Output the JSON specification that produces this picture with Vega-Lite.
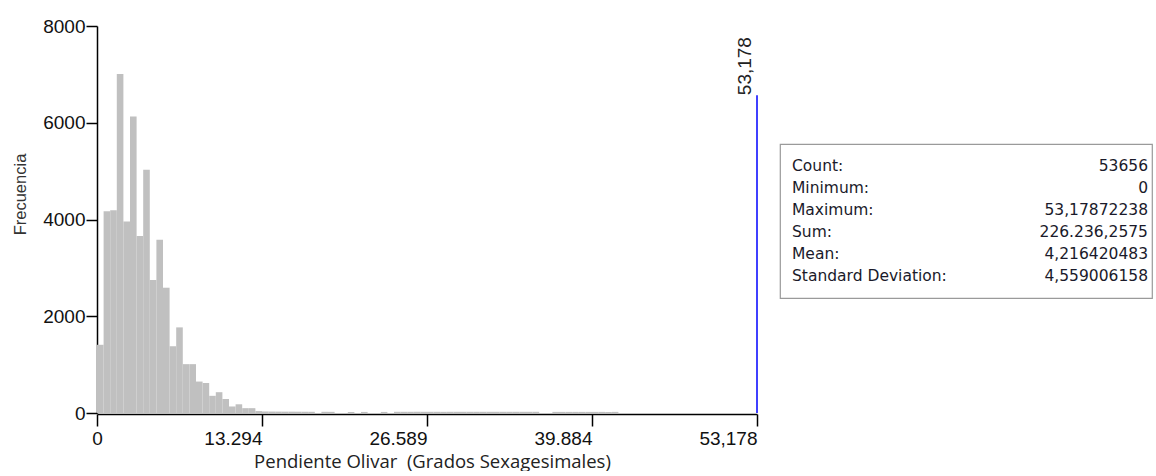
{
  "$schema": "https://vega.github.io/schema/vega-lite/v6.json",
  "background": "white",
  "padding": {"left": 12, "top": 17, "right": 0, "bottom": 0},
  "config": {"view": {"stroke": null}, "font": "Liberation Sans"},
  "spacing": 21,
  "hconcat": [
    {
      "width": 660,
      "height": 387,
      "layer": [
        {
          "data": {"values": [
            {"start": 0, "end": 0.532, "count": 1410},
            {"start": 0.532, "end": 1.064, "count": 4170},
            {"start": 1.064, "end": 1.595, "count": 4190},
            {"start": 1.595, "end": 2.127, "count": 7010},
            {"start": 2.127, "end": 2.659, "count": 3960},
            {"start": 2.659, "end": 3.191, "count": 6130},
            {"start": 3.191, "end": 3.722, "count": 3660},
            {"start": 3.722, "end": 4.254, "count": 5030},
            {"start": 4.254, "end": 4.786, "count": 2750},
            {"start": 4.786, "end": 5.318, "count": 3580},
            {"start": 5.318, "end": 5.850, "count": 2590},
            {"start": 5.850, "end": 6.381, "count": 1380},
            {"start": 6.381, "end": 6.913, "count": 1770},
            {"start": 6.913, "end": 7.445, "count": 1010},
            {"start": 7.445, "end": 7.977, "count": 1010},
            {"start": 7.977, "end": 8.508, "count": 650},
            {"start": 8.508, "end": 9.040, "count": 620},
            {"start": 9.040, "end": 9.572, "count": 355},
            {"start": 9.572, "end": 10.104, "count": 430},
            {"start": 10.104, "end": 10.636, "count": 290},
            {"start": 10.636, "end": 11.167, "count": 135},
            {"start": 11.167, "end": 11.699, "count": 180},
            {"start": 11.699, "end": 12.231, "count": 100},
            {"start": 12.231, "end": 12.763, "count": 100},
            {"start": 12.763, "end": 13.295, "count": 40},
            {"start": 13.295, "end": 13.826, "count": 32},
            {"start": 13.826, "end": 14.358, "count": 30},
            {"start": 14.358, "end": 14.890, "count": 29},
            {"start": 14.890, "end": 15.422, "count": 28},
            {"start": 15.422, "end": 15.953, "count": 28},
            {"start": 15.953, "end": 16.485, "count": 27},
            {"start": 16.485, "end": 17.017, "count": 26},
            {"start": 17.017, "end": 17.549, "count": 25},
            {"start": 18.081, "end": 18.612, "count": 25},
            {"start": 18.612, "end": 19.144, "count": 24},
            {"start": 20.208, "end": 20.739, "count": 22},
            {"start": 21.271, "end": 21.803, "count": 22},
            {"start": 22.867, "end": 23.398, "count": 22},
            {"start": 23.930, "end": 24.462, "count": 25},
            {"start": 24.462, "end": 24.994, "count": 25},
            {"start": 24.994, "end": 25.525, "count": 25},
            {"start": 25.525, "end": 26.057, "count": 26},
            {"start": 26.057, "end": 26.589, "count": 25},
            {"start": 26.589, "end": 27.121, "count": 25},
            {"start": 27.121, "end": 27.653, "count": 25},
            {"start": 27.653, "end": 28.184, "count": 24},
            {"start": 28.184, "end": 28.716, "count": 25},
            {"start": 28.716, "end": 29.248, "count": 25},
            {"start": 29.248, "end": 29.780, "count": 25},
            {"start": 29.780, "end": 30.311, "count": 25},
            {"start": 30.311, "end": 30.843, "count": 25},
            {"start": 30.843, "end": 31.375, "count": 25},
            {"start": 31.375, "end": 31.907, "count": 25},
            {"start": 31.907, "end": 32.439, "count": 25},
            {"start": 32.439, "end": 32.970, "count": 25},
            {"start": 32.970, "end": 33.502, "count": 25},
            {"start": 33.502, "end": 34.034, "count": 25},
            {"start": 34.034, "end": 34.566, "count": 25},
            {"start": 34.566, "end": 35.097, "count": 25},
            {"start": 35.097, "end": 35.629, "count": 25},
            {"start": 36.693, "end": 37.225, "count": 23},
            {"start": 37.225, "end": 37.756, "count": 23},
            {"start": 37.756, "end": 38.288, "count": 23},
            {"start": 38.288, "end": 38.820, "count": 23},
            {"start": 38.820, "end": 39.352, "count": 23},
            {"start": 39.352, "end": 39.884, "count": 23},
            {"start": 39.884, "end": 40.415, "count": 23},
            {"start": 40.415, "end": 40.947, "count": 23},
            {"start": 40.947, "end": 41.479, "count": 23},
            {"start": 41.479, "end": 42.011, "count": 23},
            {"start": 52.646, "end": 53.178, "count": 1}
          ]},
          "mark": {"type": "bar", "color": "#c0c0c0"},
          "encoding": {
            "x": {
              "field": "start", "type": "quantitative",
              "scale": {"domain": [0, 53.178], "nice": false, "zero": false},
              "axis": {
                "title": "Pendiente Olivar\u00a0 (Grados Sexagesimales)",
                "values": [0, 13.294, 26.589, 39.884, 53.178],
                "labelExpr": "datum.value == 0 ? '0' : (datum.value > 53 ? '53,178' : format(datum.value, '.3f'))",
                "labelAlign": {"condition": {"test": "datum.value == 0", "value": "center"}, "value": "right"},
                "grid": false,
                "offset": 1,
                "domainColor": "#000", "domainWidth": 1.5,
                "tickColor": "#000", "tickWidth": 1.5, "tickSize": 12,
                "labelFont": "Liberation Sans", "labelFontSize": 19, "labelColor": "#111",
                "labelPadding": 3, "labelFlush": false, "labelOverlap": false,
                "titleFont": "Open Sans", "titleFontSize": 18.5, "titleFontWeight": "normal",
                "titleColor": "#222", "titlePadding": 4, "titleX": 335
              }
            },
            "x2": {"field": "end"},
            "y": {
              "field": "count", "type": "quantitative",
              "scale": {"domain": [0, 8000], "nice": false},
              "axis": {
                "title": "Frecuencia",
                "values": [0, 2000, 4000, 6000, 8000],
                "format": "d",
                "grid": false,
                "domainColor": "#000", "domainWidth": 1.5,
                "tickColor": "#000", "tickWidth": 1.5, "tickSize": 11,
                "labelFont": "Liberation Sans", "labelFontSize": 19, "labelColor": "#111",
                "labelPadding": 1,
                "titleFont": "Liberation Sans", "titleFontSize": 16.5, "titleFontWeight": "normal",
                "titleColor": "#333", "titlePadding": 14, "titleY": 168
              }
            },
            "y2": {"datum": 0}
          }
        },
        {
          "data": {"values": [{"start": 53.178, "count": 0, "count2": 6570, "label": "53,178"}]},
          "layer": [
            {
              "mark": {"type": "rule", "color": "#0000ff", "strokeWidth": 1.5},
              "encoding": {
                "x": {"field": "start", "type": "quantitative"},
                "y": {"field": "count", "type": "quantitative"},
                "y2": {"field": "count2"}
              }
            },
            {
              "mark": {"type": "text", "angle": 270, "align": "left", "baseline": "alphabetic", "dy": -6, "font": "Liberation Sans", "fontSize": 19, "color": "#222"},
              "encoding": {
                "x": {"field": "start", "type": "quantitative"},
                "y": {"field": "count2", "type": "quantitative"},
                "text": {"field": "label"}
              }
            }
          ]
        }
      ]
    },
    {
      "spacing": 0,
      "vconcat": [
        {
          "width": 372,
          "height": 117,
          "data": {"values": [{"t": ""}]},
          "mark": {"type": "text"},
          "encoding": {"text": {"field": "t"}}
        },
        {
          "width": 372,
          "height": 154,
          "view": {"stroke": "#9a9a9a", "strokeWidth": 1.2},
          "data": {"values": [
            {"k": "Count:", "v": "53656"},
            {"k": "Minimum:", "v": "0"},
            {"k": "Maximum:", "v": "53,17872238"},
            {"k": "Sum:", "v": "226.236,2575"},
            {"k": "Mean:", "v": "4,216420483"},
            {"k": "Standard Deviation:", "v": "4,559006158"}
          ]},
          "layer": [
            {
              "mark": {"type": "text", "align": "left", "baseline": "middle", "dx": 12, "font": "DejaVu Sans", "fontSize": 15.5, "color": "#1a1a2a"},
              "encoding": {
                "x": {"datum": 0, "type": "quantitative", "scale": {"domain": [0, 1]}, "axis": null},
                "y": {"field": "k", "type": "ordinal", "sort": null, "scale": {"type": "point", "padding": 1}, "axis": null},
                "text": {"field": "k"}
              }
            },
            {
              "mark": {"type": "text", "align": "right", "baseline": "middle", "dx": -4, "font": "DejaVu Sans", "fontSize": 15.5, "color": "#1a1a2a"},
              "encoding": {
                "x": {"datum": 1, "type": "quantitative", "scale": {"domain": [0, 1]}, "axis": null},
                "y": {"field": "k", "type": "ordinal", "sort": null, "scale": {"type": "point", "padding": 1}, "axis": null},
                "text": {"field": "v"}
              }
            }
          ]
        }
      ]
    }
  ]
}
